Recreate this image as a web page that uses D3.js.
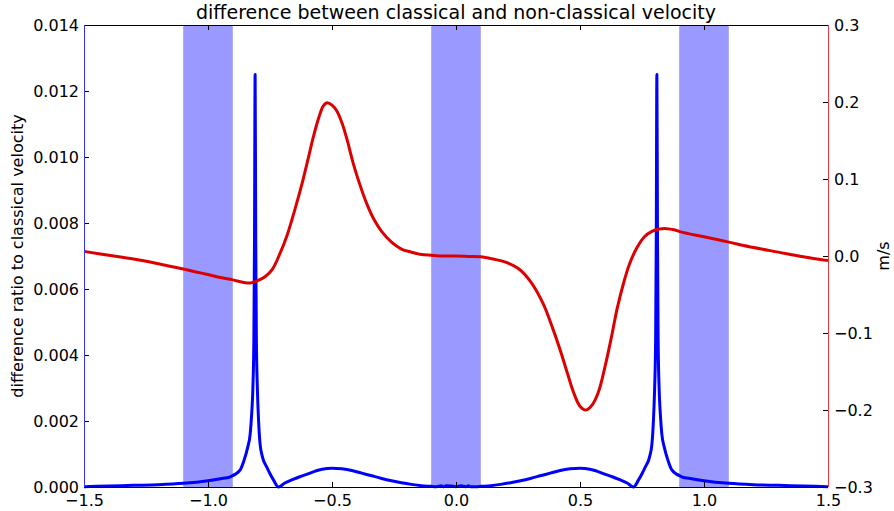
<!DOCTYPE html>
<html lang="en">
<head>
<meta charset="UTF-8">
<title>difference between classical and non-classical velocity</title>
<script src="https://d3js.org/d3.v7.min.js"></script>
<style>
	body { margin: 0; background: #fff; }
	svg, svg text { font-family: "DejaVu Sans", sans-serif; }
	.tick text { font-size: 16px; fill: #000; }
	.axis path { display: none; }
</style>
</head>
<body>
<svg id="chart" width="894" height="511"></svg>
<script>
	// data
	const bands = [[-1.1, -0.9], [-0.1, 0.1], [0.9, 1.1]]

	const ratioX = [-1.5, -1.4, -1.3, -1.2, -1.1, -1.0, -0.95, -0.91, -0.87, -0.855, -0.84, -0.83, -0.824, -0.819, -0.815, -0.8125, -0.81,
		-0.8075, -0.805, -0.801, -0.796, -0.79, -0.78, -0.763, -0.75, -0.735, -0.716, -0.69, -0.66, -0.63, -0.6, -0.56, -0.52, -0.5,
		-0.46, -0.42, -0.38, -0.34, -0.3, -0.26, -0.22, -0.18, -0.14, -0.1, -0.08, -0.06, -0.05, -0.04, -0.02, 0.0,
		0.02, 0.04, 0.05, 0.06, 0.08, 0.1, 0.14, 0.18, 0.22, 0.26, 0.3, 0.34, 0.38, 0.42, 0.46, 0.5, 0.52, 0.56, 0.6, 0.63, 0.66, 0.69,
		0.716, 0.735, 0.75, 0.763, 0.78, 0.79, 0.796, 0.801, 0.805, 0.8075, 0.81, 0.8125, 0.815, 0.819, 0.824, 0.83, 0.84, 0.855, 0.87,
		0.91, 0.95, 1.0, 1.1, 1.2, 1.3, 1.4, 1.5]
	const ratioY = [0.00001, 0.00003, 0.00005, 0.00007, 0.00011, 0.00019, 0.00025, 0.00031, 0.00052, 0.0008, 0.0012, 0.0016, 0.0022, 0.003, 0.0045, 0.0075, 0.0125,
		0.0075, 0.0045, 0.003, 0.002, 0.0013, 0.0009, 0.0006, 0.0004, 0.0002, 0.0, 0.00012, 0.00022, 0.00031, 0.00039, 0.0005, 0.00056, 0.00057,
		0.00055, 0.0005, 0.00042, 0.00034, 0.00026, 0.00019, 0.00013, 0.00008, 0.00004, 0.00002, 0.00001, 0.00004, 0.00001, 0.00004, 0.00003, 0.00001,
		0.00004, 0.00001, 0.00004, 0.00001, 0.00001, 0.00002, 0.00004, 0.00008, 0.00013, 0.00019, 0.00026, 0.00034, 0.00042, 0.0005, 0.00055, 0.00057, 0.00056, 0.0005, 0.00039, 0.00031, 0.00022, 0.00012,
		0.0, 0.0002, 0.0004, 0.0006, 0.0009, 0.0013, 0.002, 0.003, 0.0045, 0.0075, 0.0125, 0.0075, 0.0045, 0.003, 0.0022, 0.0016, 0.0012, 0.0008, 0.00052,
		0.00031, 0.00025, 0.00019, 0.00011, 0.00007, 0.00005, 0.00003, 0.00001]

	const velX = [-1.5, -1.4, -1.3, -1.2, -1.1, -1.0, -0.95, -0.9, -0.86, -0.83, -0.8, -0.77, -0.74, -0.71, -0.68, -0.65, -0.62, -0.595,
		-0.575, -0.555, -0.535, -0.52, -0.5, -0.48, -0.46, -0.44, -0.415, -0.39, -0.36, -0.33, -0.3, -0.26, -0.22, -0.18, -0.14, -0.1,
		-0.05, 0.0, 0.05, 0.1, 0.15, 0.2, 0.25, 0.3, 0.35, 0.39, 0.42, 0.45, 0.475, 0.5, 0.524, 0.55, 0.575, 0.6, 0.625, 0.65, 0.675,
		0.7, 0.73, 0.76, 0.79, 0.82, 0.85, 0.88, 0.91, 1.0, 1.1, 1.2, 1.3, 1.4, 1.5]
	const velY = [0.006, 0.001, -0.004, -0.01, -0.017, -0.024, -0.028, -0.031, -0.034, -0.035, -0.032, -0.027, -0.017, 0.003, 0.028, 0.06, 0.095, 0.128,
		0.155, 0.178, 0.195, 0.199, 0.196, 0.188, 0.173, 0.152, 0.121, 0.095, 0.068, 0.047, 0.032, 0.018, 0.009, 0.005, 0.002, 0.001,
		0.0, 0.0, -0.0005, -0.001, -0.004, -0.008, -0.016, -0.033, -0.061, -0.094, -0.122, -0.153, -0.178, -0.195, -0.2, -0.193, -0.176, -0.145, -0.108, -0.068, -0.036,
		-0.01, 0.011, 0.025, 0.032, 0.035, 0.0355, 0.034, 0.031, 0.025, 0.018, 0.011, 0.005, -0.001, -0.006]

	const xTicks = [-1.5, -1.0, -0.5, 0.0, 0.5, 1.0, 1.5]
	const leftTicks = [0, 0.002, 0.004, 0.006, 0.008, 0.010, 0.012, 0.014]
	const rightTicks = [-0.3, -0.2, -0.1, 0.0, 0.1, 0.2, 0.3]

	const margin = {top: 25, right: 66, bottom: 24, left: 84}
	const width = 894 - margin.left - margin.right
	const height = 511 - margin.top - margin.bottom
	const font = "DejaVu Sans, sans-serif"
	const minus = s => s.replace("-", "\u2212")

	const svg = d3.select("#chart")
	const g = svg.append("g").attr("transform", `translate(${margin.left},${margin.top})`)

	const x = d3.scaleLinear().domain([-1.5, 1.5]).range([0, width])
	const yL = d3.scaleLinear().domain([0, 0.014]).range([height, 0])
	const yR = d3.scaleLinear().domain([-0.3, 0.3]).range([height, 0])

	g.append("g").selectAll("rect")
		.data(bands)
		.join("rect")
		.attr("x", d => x(d[0]))
		.attr("y", 0)
		.attr("width", d => x(d[1]) - x(d[0]))
		.attr("height", height)
		.attr("fill", "#9999ff")

	const ratio = ratioX.map((v, i) => [v, ratioY[i]])
	const vel = velX.map((v, i) => [v, velY[i]])

	g.append("path")
		.datum(ratio)
		.attr("fill", "none")
		.attr("stroke", "#0000ff")
		.attr("stroke-width", 3)
		.attr("stroke-linejoin", "round")
		.attr("d", d3.line().x(d => x(d[0])).y(d => yL(d[1])).curve(d3.curveMonotoneX))

	g.append("path")
		.datum(vel)
		.attr("fill", "none")
		.attr("stroke", "#dd0000")
		.attr("stroke-width", 3)
		.attr("stroke-linejoin", "round")
		.attr("d", d3.line().x(d => x(d[0])).y(d => yR(d[1])).curve(d3.curveCatmullRom.alpha(0.5)))

	// axes, ticks point inward like the classic style
	g.append("g").classed("axis", true)
		.attr("transform", `translate(0,${height})`)
		.call(d3.axisBottom(x).tickValues(xTicks).tickSizeInner(-5).tickPadding(8).tickFormat(d => minus(d3.format(".1f")(d))))
	g.append("g").classed("axis", true)
		.call(d3.axisTop(x).tickValues(xTicks).tickSizeInner(-5).tickFormat(""))
	g.append("g").classed("axis", true)
		.call(d3.axisLeft(yL).tickValues(leftTicks).tickFormat(d3.format(".3f")).tickSizeInner(-5).tickPadding(5))
	g.append("g").classed("axis", true)
		.attr("transform", `translate(${width},0)`)
		.call(d3.axisRight(yR).tickValues(rightTicks).tickSizeInner(-5).tickPadding(6).tickFormat(d => minus(d3.format(".1f")(d))))
	g.selectAll(".axis").attr("font-family", font).attr("font-size", 16)

	g.append("line").attr("x1", 0).attr("x2", width).attr("y1", 0.5).attr("y2", 0.5).attr("stroke", "#000")
	g.append("line").attr("x1", 0).attr("x2", width).attr("y1", height + 0.5).attr("y2", height + 0.5).attr("stroke", "#000")
	g.append("line").attr("x1", 0.5).attr("x2", 0.5).attr("y1", 0).attr("y2", height).attr("stroke", "#3333ff")
	g.append("line").attr("x1", width + 0.5).attr("x2", width + 0.5).attr("y1", 0).attr("y2", height).attr("stroke", "#e8383d")

	svg.append("text")
		.attr("x", margin.left + width / 2)
		.attr("y", 19)
		.attr("text-anchor", "middle")
		.attr("font-family", font)
		.attr("font-size", 19)
		.text("difference between classical and non-classical velocity")

	svg.append("text")
		.attr("transform", `translate(23,${margin.top + height / 2}) rotate(-90)`)
		.attr("text-anchor", "middle")
		.attr("font-family", font)
		.attr("font-size", 16)
		.text("difference ratio to classical velocity")

	svg.append("text")
		.attr("transform", `translate(889,${margin.top + height / 2}) rotate(-90)`)
		.attr("text-anchor", "middle")
		.attr("font-family", font)
		.attr("font-size", 16)
		.text("m/s")
</script>
</body>
</html>
